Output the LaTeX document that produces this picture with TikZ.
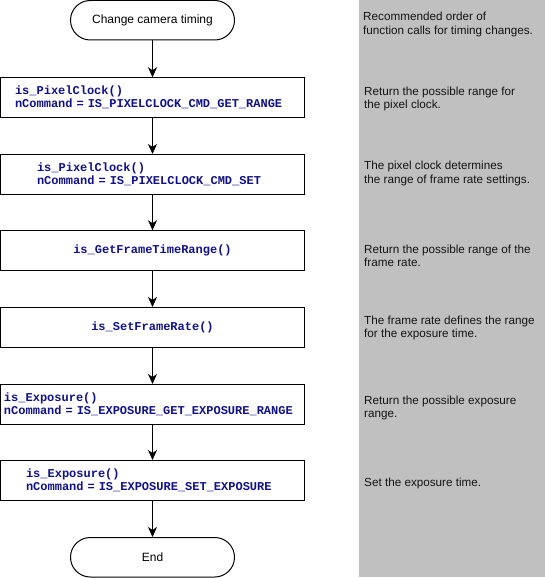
\documentclass[tikz,border=0pt]{standalone}
\usepackage{fontspec}
\setmainfont{Liberation Sans}
\newfontfamily\codefont{Liberation Mono}
\usetikzlibrary{arrows.meta}
\definecolor{panelgray}{RGB}{192,192,192}
\definecolor{codeblue}{RGB}{16,16,136}
\definecolor{notetext}{RGB}{20,20,20}
\tikzset{
  terminal/.style={draw, line width=1pt, rounded corners=19.75pt, minimum width=164pt,
    minimum height=39.5pt, inner sep=0pt, font=\fontsize{12}{14}\selectfont},
  codebox/.style={draw, line width=1pt, minimum width=304pt, minimum height=39.5pt,
    inner ysep=0pt, text=codeblue, font=\codefont\bfseries\fontsize{12}{13}\selectfont},
  codeleft/.style 2 args={text width=#1, inner xsep=#2, align=left},
  codecenter/.style={inner xsep=0pt, align=center},
  flow/.style={line width=1pt, -{Stealth[length=10pt,width=9pt,inset=3pt]}},
  note/.style={anchor=base west, inner sep=0pt, text=notetext,
    font=\fontsize{11.7}{13.5}\selectfont},
}
\begin{document}
\begin{tikzpicture}[x=1pt,y=-1pt]
\useasboundingbox (0,0) rectangle (545,578);
\fill[panelgray] (359,0) rectangle (545,577);

\node[terminal] (start) at (152.5,20.25) {Change camera timing};
\node[codebox, codeleft={275pt}{14.5pt}] (b1) at (152.5,97.5)
  {is\_PixelClock()\\nCommand = IS\_PIXELCLOCK\_CMD\_GET\_RANGE};
\node[codebox, codeleft={231pt}{36.5pt}] (b2) at (152.5,174.25)
  {is\_PixelClock()\\nCommand = IS\_PIXELCLOCK\_CMD\_SET};
\node[codebox, codecenter] (b3) at (152.5,250.5) {is\_GetFrameTimeRange()};
\node[codebox, codecenter] (b4) at (152.5,327.25) {is\_SetFrameRate()};
\node[codebox, codeleft={297pt}{3.5pt}] (b5) at (152.5,404.25)
  {is\_Exposure()\\nCommand = IS\_EXPOSURE\_GET\_EXPOSURE\_RANGE};
\node[codebox, codeleft={253pt}{25.5pt}] (b6) at (152.5,480.25)
  {is\_Exposure()\\nCommand = IS\_EXPOSURE\_SET\_EXPOSURE};
\node[terminal] (stop) at (152.5,557.25) {End};

\draw[flow] (start) -- (b1);
\draw[flow] (b1) -- (b2);
\draw[flow] (b2) -- (b3);
\draw[flow] (b3) -- (b4);
\draw[flow] (b4) -- (b5);
\draw[flow] (b5) -- (b6);
\draw[flow] (b6) -- (stop);

\node[note] (n1) at (363,21)
  {\begin{tabular}[t]{@{}l@{}}Recommended order of\\function calls for timing changes.\end{tabular}};
\node[note] (n2) at (364,95)
  {\begin{tabular}[t]{@{}l@{}}Return the possible range for\\the pixel clock.\end{tabular}};
\node[note] (n3) at (364,169.5)
  {\begin{tabular}[t]{@{}l@{}}The pixel clock determines\\the range of frame rate settings.\end{tabular}};
\node[note] (n4) at (364,253)
  {\begin{tabular}[t]{@{}l@{}}Return the possible range of the\\frame rate.\end{tabular}};
\node[note] (n5) at (364,324)
  {\begin{tabular}[t]{@{}l@{}}The frame rate defines the range\\for the exposure time.\end{tabular}};
\node[note] (n6) at (364,404)
  {\begin{tabular}[t]{@{}l@{}}Return the possible exposure\\range.\end{tabular}};
\node[note] (n7) at (364,486) {Set the exposure time.};
\end{tikzpicture}
\end{document}
